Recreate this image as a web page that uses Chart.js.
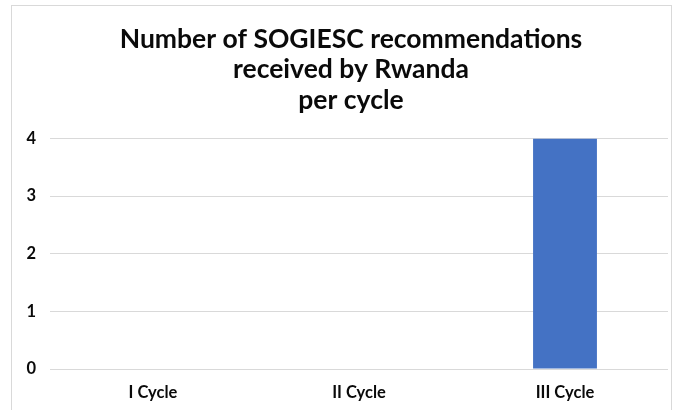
<!DOCTYPE html>
<html>
<head>
<meta charset="utf-8">
<script src="https://cdn.jsdelivr.net/npm/chart.js@4.4.1/dist/chart.umd.min.js"></script>
<style>
  body { margin: 0; background: #fff; }
  /* light outer frame around the chart */
  .frame {
    position: absolute;
    left: 11px;
    top: 5px;
    width: 659px;
    height: 420px;
    border: 1px solid #d9d9d9;
  }
  .chart-box {
    position: absolute;
    left: 0;
    top: 0;
    width: 676px;
    height: 410px;
  }
</style>
</head>
<body>
<div class="frame"></div>
<div class="chart-box">
  <canvas id="cycleChart" width="676" height="410"></canvas>
</div>
<script>
const cycles = ['I Cycle', 'II Cycle', 'III Cycle'];
const recommendations = [0, 0, 4];
const titleLines = ['Number of SOGIESC recommendations', 'received by Rwanda', 'per cycle'];

const ctx = document.getElementById('cycleChart').getContext('2d');

new Chart(ctx, {
  type: 'bar',
  data: {
    labels: cycles,
    datasets: [{
      label: 'Recommendations',
      data: recommendations,
      backgroundColor: '#4472C4',
      borderWidth: 0,
      categoryPercentage: 1,
      barPercentage: 0.31,
    }]
  },
  options: {
    responsive: false,
    animation: false,
    layout: {
      // negative right padding pushes the title centre right, the blank right axis takes it back
      padding: { left: 12, right: -14, top: 18, bottom: 0 }
    },
    plugins: {
      legend: { display: false },
      tooltip: { enabled: false },
      title: {
        display: true,
        text: titleLines,
        color: '#0a0a0a',
        font: { family: 'Lato', size: 26.5, weight: 'bold', lineHeight: 1.15 },
        padding: { top: 6, bottom: 23 },
      },
    },
    scales: {
      x: {
        afterFit: (scale) => { scale.height = 41; }, // plot bottom near y=369
        grid: { display: false, drawTicks: false },
        border: { display: false },
        ticks: {
          color: '#0a0a0a',
          padding: 14,
          font: { family: 'Lato', size: 16.5, weight: 'bold' },
        },
      },
      y: {
        min: 0,
        max: 4,
        afterFit: (scale) => { scale.width = 38; }, // plot starts near x=50
        grid: { color: '#d9d9d9', lineWidth: 1, drawTicks: false },
        border: { display: false },
        ticks: {
          stepSize: 1,
          color: '#0a0a0a',
          padding: 14,
          font: { family: 'Lato', size: 16.5, weight: 'bold' },
        },
      },
      yRight: {
        position: 'right',
        min: 0,
        max: 4,
        afterFit: (scale) => { scale.width = 22; }, // plot ends near x=668
        grid: { display: false, drawTicks: false },
        border: { display: false },
        ticks: { display: false },
      },
    },
  }
});
</script>
</body>
</html>
